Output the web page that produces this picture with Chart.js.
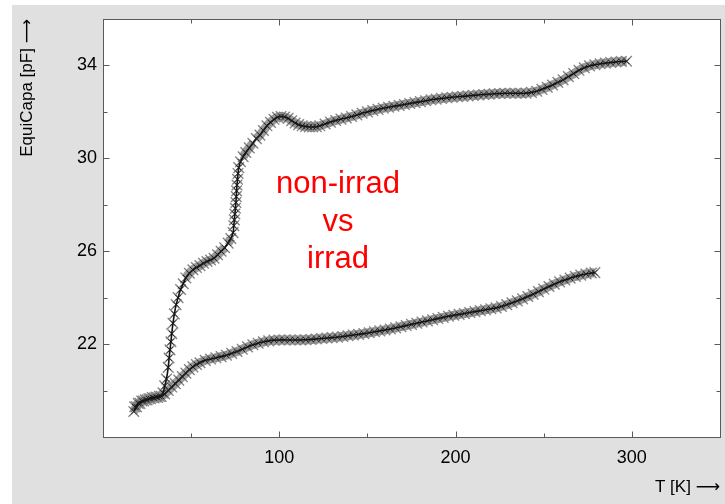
<!DOCTYPE html>
<html>
<head>
<meta charset="utf-8">
<script src="https://cdn.jsdelivr.net/npm/chart.js@4/dist/chart.umd.min.js"></script>
<style>
  html, body { margin: 0; padding: 0; background: #ffffff; }
  #wrap { width: 725px; height: 504px; position: relative; }
</style>
</head>
<body>
<div id="wrap"><canvas id="c" width="725" height="504"></canvas></div>
<script>
// Equivalent capacitance versus temperature, two sensors
const nonIrradT = [18, 20, 22, 24, 26, 28, 30, 32, 34, 35, 36, 37, 37.5, 38, 38.5, 39, 39.7, 40.5, 41.5, 42.6,
  44, 45.5, 47, 49, 51, 53, 55, 57, 59, 61, 63, 65, 67, 69, 71, 72.5, 73.8,
  74.2, 74.5, 74.8, 75.1, 75.4, 75.6, 75.8, 76, 76.3, 76.6, 77, 78, 79.5,
  81, 83, 85, 87, 89, 91, 93, 95, 97, 99, 101, 103, 105, 107, 109, 111, 113, 115, 117, 119,
  121, 123, 126, 129, 132, 135, 138, 141, 144, 147, 150, 153, 156, 159, 162, 165, 168, 171, 174, 177,
  180, 183, 186, 189, 192, 195, 198, 201, 204, 207, 210, 213, 216, 219, 222, 225, 228, 231, 234, 237,
  240, 243, 246, 249, 252, 255, 258, 261, 264, 267, 270, 273, 276, 279, 282, 285, 288, 291, 294, 297];
const nonIrradC = [19.3, 19.45, 19.55, 19.6, 19.65, 19.7, 19.72, 19.75, 19.9, 20.2, 20.5, 21.0, 21.4, 21.75, 22.1, 22.45, 22.9, 23.3, 23.7, 24.0,
  24.35, 24.6, 24.85, 25.05, 25.2, 25.3, 25.38, 25.48, 25.56, 25.62, 25.7, 25.85, 26.0, 26.15, 26.35, 26.55, 26.8,
  27.1, 27.35, 27.6, 27.85, 28.1, 28.35, 28.6, 28.85, 29.1, 29.35, 29.6, 29.85, 30.07,
  30.25, 30.45, 30.65, 30.85, 31.0, 31.2, 31.4, 31.55, 31.68, 31.77, 31.8, 31.78, 31.72, 31.62, 31.52, 31.45, 31.4, 31.37, 31.35, 31.35,
  31.36, 31.4, 31.48, 31.56, 31.63, 31.69, 31.74, 31.8, 31.87, 31.94, 32.0, 32.06, 32.11, 32.16, 32.2, 32.24, 32.28, 32.32, 32.36, 32.4,
  32.44, 32.48, 32.52, 32.55, 32.58, 32.61, 32.63, 32.65, 32.67, 32.69, 32.71, 32.73, 32.75, 32.76, 32.78, 32.79, 32.8, 32.8, 32.8, 32.8,
  32.81, 32.84, 32.89, 32.97, 33.06, 33.16, 33.27, 33.38, 33.52, 33.65, 33.79, 33.9, 33.98, 34.03, 34.07, 34.1, 34.13, 34.15, 34.17, 34.18];

const irradT = [17.5, 19, 21, 23, 25, 27, 29, 31, 33, 35, 37, 39, 41, 43, 45, 47, 49, 51, 53, 55,
  58, 61, 64, 67, 70, 73, 76, 79, 82, 85, 88, 91, 94, 97, 100, 103, 106, 109, 112, 115,
  118, 121, 124, 127, 130, 133, 136, 139, 142, 145, 148, 151, 154, 157, 160, 163, 166, 169, 172, 175,
  178, 181, 184, 187, 190, 193, 196, 199, 202, 205, 208, 211, 214, 217, 220, 223, 226, 229, 232, 235,
  238, 241, 244, 247, 250, 253, 256, 259, 262, 265, 268, 271, 274, 277, 279];
const irradC = [19.1, 19.3, 19.45, 19.55, 19.6, 19.65, 19.68, 19.7, 19.75, 19.85, 20.0, 20.15, 20.3, 20.45, 20.6, 20.75, 20.9, 21.02, 21.12, 21.2,
  21.3, 21.36, 21.41, 21.46, 21.52, 21.6, 21.68, 21.78, 21.88, 21.97, 22.04, 22.1, 22.14, 22.17, 22.18, 22.18, 22.18, 22.18, 22.18, 22.19,
  22.2, 22.22, 22.24, 22.26, 22.28, 22.3, 22.33, 22.36, 22.39, 22.42, 22.45, 22.49, 22.53, 22.57, 22.61, 22.65, 22.7, 22.75, 22.8, 22.85,
  22.9, 22.95, 23.0, 23.05, 23.1, 23.15, 23.2, 23.24, 23.28, 23.32, 23.36, 23.4, 23.44, 23.48, 23.52, 23.56, 23.62, 23.7, 23.78, 23.86,
  23.95, 24.05, 24.15, 24.26, 24.37, 24.48, 24.58, 24.68, 24.76, 24.84, 24.91, 24.97, 25.02, 25.06, 25.08];

const xTickLabels = [100, 200, 300];
const xMinorTicks = [50, 150, 250];
const yTickLabels = [22, 26, 30, 34];
const yMinorTicks = [20, 24, 28, 32];
const noteLines = ['non-irrad', 'vs', 'irrad'];

const toPoints = (xs, ys) => xs.map((x, i) => ({ x: x, y: ys[i] }));

const FONT = '"Liberation Sans", Arial, "DejaVu Sans", sans-serif';
const FRAME = '#5a5a5a';

// page backdrop, white plot box
const backdrop = {
  id: 'backdrop',
  beforeDraw(chart) {
    const { ctx, chartArea: a } = chart;
    ctx.save();
    ctx.fillStyle = '#ffffff';
    ctx.fillRect(0, 0, chart.width, chart.height);
    ctx.fillStyle = '#e0e0e0';
    ctx.fillRect(12, 5, chart.width - 12, chart.height - 5);
    ctx.fillStyle = '#ffffff';
    ctx.fillRect(a.left, a.top, a.right - a.left, a.bottom - a.top);
    ctx.restore();
  }
};

// box frame with inward tick marks on all four sides
const frame = {
  id: 'frame',
  afterDraw(chart) {
    const { ctx, chartArea: a, scales: { x, y } } = chart;
    ctx.save();
    ctx.strokeStyle = FRAME;
    ctx.lineWidth = 1;
    const seg = (x1, y1, x2, y2) => { ctx.beginPath(); ctx.moveTo(x1, y1); ctx.lineTo(x2, y2); ctx.stroke(); };
    const L = Math.round(a.left) + 0.5, R = Math.round(a.right) + 0.5;
    const T = Math.round(a.top) + 0.5, B = Math.round(a.bottom) + 0.5;
    ctx.strokeRect(L, T, R - L, B - T);
    const xt = (v, len) => { const p = Math.round(x.getPixelForValue(v)) + 0.5; seg(p, B, p, B - len); seg(p, T, p, T + len); };
    const yt = (v, len) => { const p = Math.round(y.getPixelForValue(v)) + 0.5; seg(L, p, L + len, p); seg(R, p, R - len, p); };
    xTickLabels.forEach(v => xt(v, 6));
    xMinorTicks.forEach(v => xt(v, 4));
    yTickLabels.forEach(v => yt(v, 6));
    yMinorTicks.forEach(v => yt(v, 4));
    ctx.restore();
  }
};

// red note in the middle of the plot
const note = {
  id: 'note',
  afterDatasetsDraw(chart) {
    const { ctx } = chart;
    ctx.save();
    ctx.fillStyle = '#ff0000';
    ctx.font = '31px ' + FONT;
    ctx.textAlign = 'center';
    ctx.textBaseline = 'alphabetic';
    const baselines = [193, 231, 268];
    noteLines.forEach((t, i) => ctx.fillText(t, 338, baselines[i]));
    ctx.restore();
  }
};

// gray band under the markers; left open where the readings are far apart
const BAND = 'rgba(120,120,120,0.75)';
const OPEN = 'rgba(0,0,0,0)';
const grayBand = (data) => ({
  data, showLine: true, order: 3,
  borderColor: BAND, borderWidth: 9, tension: 0.3, pointRadius: 0, pointHoverRadius: 0,
  segment: { borderColor: c => (Math.abs(c.p1.parsed.y - c.p0.parsed.y) > 0.2 ? OPEN : BAND) }
});
const grayMarks = (data) => ({
  data, showLine: false, order: 2,
  pointStyle: 'crossRot', pointRadius: 7.5, pointHoverRadius: 7.5,
  pointBorderColor: '#858585', pointBackgroundColor: '#858585', pointBorderWidth: 1.4
});
const blackTrace = (data) => ({
  data, showLine: true, order: 1,
  borderColor: '#111111', borderWidth: 1.6, tension: 0.3,
  pointStyle: 'crossRot', pointRadius: 4, pointHoverRadius: 4,
  pointBorderColor: '#1a1a1a', pointBackgroundColor: '#1a1a1a', pointBorderWidth: 0.9
});

const upper = toPoints(nonIrradT, nonIrradC);
const lower = toPoints(irradT, irradC);

const tightX = s => { s.height = 67; };
const tightY = s => { s.width = 103; };

new Chart(document.getElementById('c'), {
  type: 'scatter',
  data: {
    datasets: [
      grayBand(upper), grayBand(lower),
      grayMarks(upper), grayMarks(lower),
      blackTrace(upper), blackTrace(lower)
    ]
  },
  options: {
    responsive: false,
    animation: false,
    devicePixelRatio: 1,
    layout: { autoPadding: false, padding: { left: 0, top: 19, right: 5, bottom: 0 } },
    plugins: { legend: { display: false }, tooltip: { enabled: false } },
    scales: {
      x: {
        type: 'linear', min: 0, max: 350,
        afterBuildTicks: s => { s.ticks = xTickLabels.map(v => ({ value: v })); },
        afterFit: tightX,
        grid: { display: false, drawTicks: false },
        border: { display: false },
        ticks: { color: '#000', font: { family: FONT, size: 18 }, padding: 10, maxRotation: 0 },
        title: {
          display: true, text: 'T [K] \u27F6', align: 'end', color: '#000',
          font: { family: FONT, size: 17 }, padding: { top: 0, bottom: 6 }
        }
      },
      y: {
        type: 'linear', min: 18, max: 36,
        afterBuildTicks: s => { s.ticks = yTickLabels.map(v => ({ value: v })); },
        afterFit: tightY,
        grid: { display: false, drawTicks: false },
        border: { display: false },
        ticks: { color: '#000', font: { family: FONT, size: 18 }, padding: 6 },
        title: {
          display: true, text: 'EquiCapa [pF] \u27F6', align: 'end', color: '#000',
          font: { family: FONT, size: 17 }, padding: { top: 17, bottom: 0 }
        }
      }
    }
  },
  plugins: [backdrop, frame, note]
});
</script>
</body>
</html>
